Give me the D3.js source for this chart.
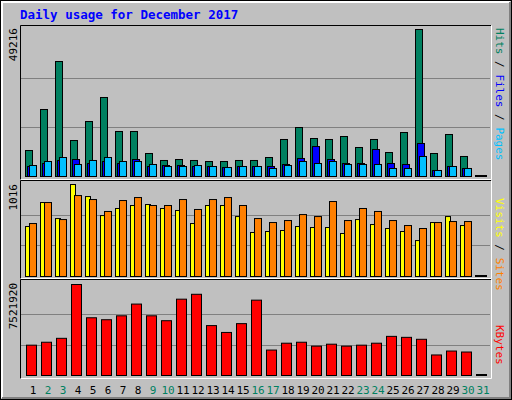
<!DOCTYPE html>
<html><head><meta charset="utf-8">
<script src="https://cdn.jsdelivr.net/npm/d3@7"></script>
<style>body{margin:0;background:#fff}svg{display:block}</style>
</head><body>
<script>
// Daily usage, December 2017
const days = d3.range(1, 32);
const weekends = [2, 3, 9, 10, 16, 17, 23, 24, 30, 31];
const hits = [8700,22430,38500,12050,18410,26450,15070,15070,7700,5360,5690,5360,5020,5020,5360,5360,6360,12390,16400,12720,12390,13390,9710,12390,8030,14730,49216,7700,14060,6700,0];
const files = [3350,4350,5360,5690,4350,5020,4350,5690,3350,3680,3680,3350,3350,3010,3350,3350,3350,4020,6030,10040,5690,4350,4350,9040,4350,4020,11050,2010,3350,2680,0];
const pages = [3680,5020,6360,4020,5360,6360,5020,5020,4020,3350,3350,3680,3350,3010,3350,3350,2680,3680,5020,4350,5020,4020,4020,4020,2680,2680,6700,2010,3350,2680,0];
const visits = [552,817,640,1016,883,673,751,784,795,751,729,585,784,784,662,486,497,508,552,541,541,475,629,574,530,497,397,596,662,563,0];
const sites = [585,817,629,894,850,718,839,872,784,784,850,740,850,872,784,640,596,618,684,662,828,618,751,718,618,563,530,596,607,607,0];
const kbytes = [2507000,2750000,3073000,7521920,4772000,4610000,4934000,5904000,4934000,4529000,6309000,6713000,4125000,3559000,4287000,6228000,2103000,2669000,2750000,2426000,2588000,2426000,2507000,2669000,3235000,3154000,2993000,1698000,2022000,1941000,0];

const W = 512, H = 400;
const svg = d3.select('body').append('svg').attr('width', W).attr('height', H);
const font = '"DejaVu Sans Mono", monospace';

// background + bevel
svg.append('rect').attr('x', 0.5).attr('y', 0.5).attr('width', W - 1).attr('height', H - 1)
  .attr('fill', '#c0c0c0').attr('stroke', '#000');
svg.append('path').attr('d', `M2,${H - 2}V2H${W - 2}`).attr('fill', 'none').attr('stroke', '#fff').attr('stroke-width', 2);
svg.append('path').attr('d', `M2,${H - 2}H${W - 2}V2`).attr('fill', 'none').attr('stroke', '#808080').attr('stroke-width', 2);

svg.append('text').attr('x', 20).attr('y', 19).text('Daily usage for December 2017')
  .attr('font-family', font).attr('font-weight', 'bold').attr('font-size', 12.5).attr('fill', '#0000ff');

const x = d3.scaleBand().domain(days).range([20, 485]);

// panel frame
function panel(y0, y1) {
  svg.append('path').attr('d', `M20.5,${y1}V${y0 + 0.5}H491`).attr('fill', 'none').attr('stroke', '#000');
  svg.append('path').attr('d', `M20.5,${y1 - 0.5}H491.5V${y0 + 0.5}`).attr('fill', 'none').attr('stroke', '#fff');
}
function grid(y, base, top) {
  [1 / 3, 2 / 3].forEach(f => {
    const yy = Math.round(y.invert(base - (base - top) * f)) ;
    svg.append('line').attr('x1', 21).attr('x2', 490)
      .attr('y1', Math.round(base - (base - top) * f) + 0.5).attr('y2', Math.round(base - (base - top) * f) + 0.5)
      .attr('stroke', '#808080');
  });
}
function bars(vals, y, dx, w, color) {
  svg.append('g').selectAll('rect').data(vals).join('rect')
    .attr('x', (d, i) => x(days[i]) + dx + 0.5)
    .attr('y', d => Math.min(y(d), y(0) - 1) + 0.5)
    .attr('width', w)
    .attr('height', d => Math.max(1, y(0) - y(d)))
    .attr('fill', d => d > 0 ? color : '#000')
    .attr('stroke', '#000');
}
function leftLabel(txt, yTop) {
  svg.append('text').attr('transform', `translate(17,${yTop}) rotate(-90)`)
    .attr('text-anchor', 'end').attr('font-family', font).attr('font-size', 11).attr('fill', '#000').text(txt);
}
function rightLabel(parts, yTop) {
  const t = svg.append('text').attr('transform', `translate(496,${yTop}) rotate(90)`)
    .attr('font-family', font).attr('font-size', 11).attr('text-anchor', 'start');
  parts.forEach(p => t.append('tspan').attr('fill', p[1]).text(p[0]));
}

// top: hits / files / pages
panel(25, 180);
const y1 = d3.scaleLinear().domain([0, d3.max(hits)]).range([176, 29]);
grid(y1, 176, 29);
bars(hits, y1, 5, 7, '#008060');
bars(files, y1, 7, 7, '#0000ff');
bars(pages, y1, 9, 7, '#00c0ff');
leftLabel('49216', 28);
rightLabel([['Hits', '#008060'], [' / ', '#000'], ['Files', '#0000ff'], [' / ', '#000'], ['Pages', '#00c0ff']], 28);

// middle: visits / sites
panel(180, 279);
const y2 = d3.scaleLinear().domain([0, d3.max(visits)]).range([276, 184]);
grid(y2, 276, 184);
bars(visits, y2, 5, 5, '#ffff00');
bars(sites, y2, 9, 7, '#ff8000');
leftLabel('1016', 184);
rightLabel([['Visits', '#ffff00'], [' / ', '#000'], ['Sites', '#ff8000']], 198);

// bottom: kbytes
panel(279, 379);
const y3 = d3.scaleLinear().domain([0, d3.max(kbytes)]).range([375, 284]);
grid(y3, 375, 284);
bars(kbytes, y3, 6, 10, '#ff0000');
leftLabel('7521920', 283);
rightLabel([['KBytes', '#ff0000']], 325);

// day labels
svg.append('g').selectAll('text').data(days).join('text')
  .attr('x', d => x(d) + 13).attr('y', 394).attr('text-anchor', 'middle')
  .attr('font-family', font).attr('font-size', 11)
  .attr('fill', d => weekends.includes(d) ? '#008060' : '#000').text(d => d);
</script>
</body></html>
